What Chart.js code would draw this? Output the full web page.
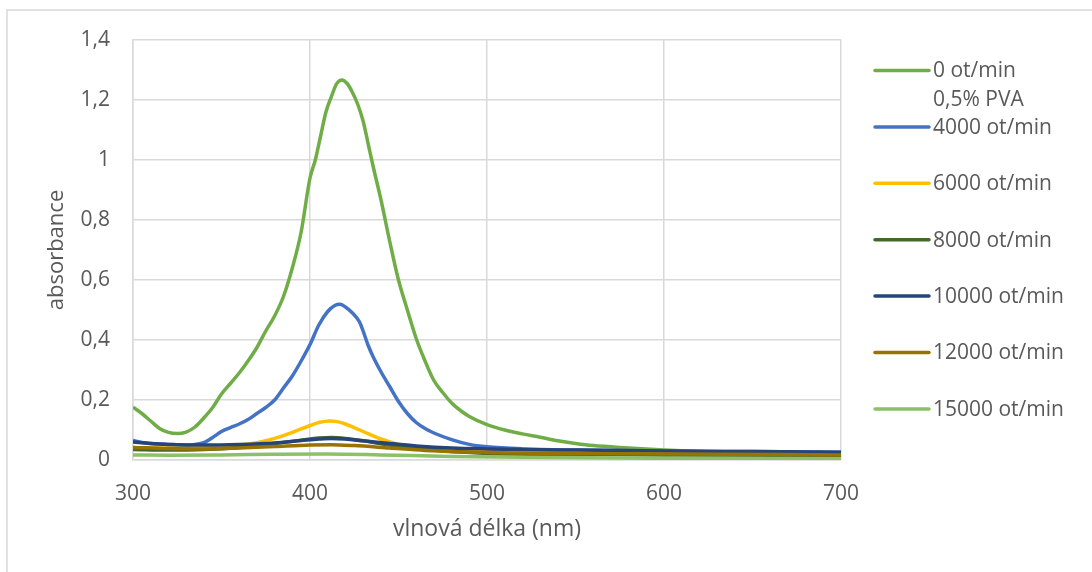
<!DOCTYPE html>
<html>
<head>
<meta charset="utf-8">
<script src="https://cdn.jsdelivr.net/npm/chart.js@4/dist/chart.umd.min.js"></script>
<style>
  html, body { margin: 0; padding: 0; background: #fff; }
  #spectra { display: block; }
</style>
</head>
<body>
<canvas id="spectra" width="1092" height="572"></canvas>
<script>
// UV-Vis spectra, absorbance vs wavelength for each spin speed

const nm0 = [300, 305, 310, 315, 320, 325, 330, 335, 340, 345, 350, 355, 360, 365, 370, 375, 380, 385, 390, 395, 400, 403, 406, 409, 412, 415, 418, 421, 424, 427, 430, 433, 436, 440, 445, 450, 455, 460, 465, 470, 475, 480, 485, 490, 500, 510, 520, 530, 540, 550, 560, 580, 600, 620, 640, 660, 680, 700];
const abs0 = [0.176, 0.155, 0.13, 0.105, 0.092, 0.088, 0.093, 0.11, 0.14, 0.175, 0.22, 0.255, 0.29, 0.33, 0.375, 0.43, 0.48, 0.545, 0.64, 0.76, 0.94, 1.0, 1.08, 1.16, 1.21, 1.254, 1.267, 1.255, 1.225, 1.185, 1.13, 1.05, 0.97, 0.87, 0.73, 0.6, 0.5, 0.405, 0.33, 0.265, 0.225, 0.19, 0.165, 0.145, 0.118, 0.1, 0.087, 0.076, 0.064, 0.055, 0.048, 0.04, 0.033, 0.028, 0.025, 0.023, 0.021, 0.02];

const nm4000 = [300, 305, 310, 320, 330, 335, 340, 345, 350, 355, 360, 365, 370, 375, 380, 385, 390, 395, 400, 405, 410, 414, 417, 420, 424, 428, 430, 433, 436, 440, 445, 450, 455, 460, 465, 470, 480, 490, 500, 520, 550, 600, 650, 700];
const abs4000 = [0.065, 0.058, 0.055, 0.052, 0.05, 0.052, 0.058, 0.075, 0.095, 0.108, 0.12, 0.135, 0.155, 0.175, 0.2, 0.24, 0.28, 0.33, 0.385, 0.45, 0.495, 0.515, 0.519, 0.51, 0.49, 0.46, 0.43, 0.38, 0.34, 0.295, 0.245, 0.195, 0.155, 0.125, 0.105, 0.09, 0.068, 0.052, 0.044, 0.037, 0.033, 0.03, 0.028, 0.026];

const nm6000 = [300, 320, 340, 360, 370, 380, 390, 400, 405, 411, 416, 420, 425, 430, 440, 450, 460, 480, 500, 550, 600, 700];
const abs6000 = [0.042, 0.04, 0.042, 0.05, 0.058, 0.072, 0.092, 0.115, 0.125, 0.13, 0.127, 0.12, 0.108, 0.095, 0.07, 0.052, 0.04, 0.032, 0.028, 0.025, 0.022, 0.018];

const nm8000 = [300, 320, 340, 360, 380, 395, 405, 412, 420, 430, 445, 460, 480, 500, 550, 600, 700];
const abs8000 = [0.035, 0.033, 0.035, 0.042, 0.055, 0.066, 0.073, 0.075, 0.072, 0.064, 0.05, 0.038, 0.028, 0.022, 0.019, 0.017, 0.015];

const nm10000 = [300, 310, 320, 340, 360, 380, 395, 405, 412, 420, 430, 445, 460, 480, 500, 550, 600, 650, 700];
const abs10000 = [0.06, 0.055, 0.052, 0.05, 0.052, 0.057, 0.065, 0.07, 0.072, 0.07, 0.064, 0.055, 0.047, 0.04, 0.037, 0.033, 0.03, 0.028, 0.026];

const nm12000 = [300, 320, 340, 360, 380, 400, 412, 425, 445, 465, 500, 550, 600, 700];
const abs12000 = [0.042, 0.038, 0.037, 0.04, 0.045, 0.05, 0.051, 0.048, 0.04, 0.032, 0.025, 0.022, 0.02, 0.017];

const nm15000 = [300, 320, 350, 380, 410, 440, 480, 520, 600, 700];
const abs15000 = [0.017, 0.016, 0.017, 0.019, 0.02, 0.017, 0.012, 0.009, 0.006, 0.004];

const seriesLabels = [['0 ot/min', '0,5% PVA'], '4000 ot/min', '6000 ot/min', '8000 ot/min', '10000 ot/min', '12000 ot/min', '15000 ot/min'];
const seriesColors = ['#70AD47', '#4472C4', '#FFC000', '#43682B', '#264478', '#997300', '#8CC168'];
const seriesX = [nm0, nm4000, nm6000, nm8000, nm10000, nm12000, nm15000];
const seriesY = [abs0, abs4000, abs6000, abs8000, abs10000, abs12000, abs15000];

const xTicks = [300, 400, 500, 600, 700];
const yTicks = [0, 0.2, 0.4, 0.6, 0.8, 1, 1.2, 1.4];

const textColor = '#595959';
const gridColor = '#d9d9d9';
const fontFamily = '"Open Sans", "Liberation Sans", sans-serif';

const points = (xs, ys) => xs.map((x, i) => ({x: x, y: ys[i]}));
const decimalComma = v => String(+v.toFixed(1)).replace('.', ',');

// Outer frame of the chart object
const frame = {
  id: 'frame',
  beforeDraw(chart) {
    const ctx = chart.ctx;
    ctx.save();
    ctx.fillStyle = '#fff';
    ctx.fillRect(0, 0, chart.width, chart.height);
    ctx.strokeStyle = gridColor;
    ctx.lineWidth = 1.5;
    ctx.strokeRect(7, 10, chart.width + 20, chart.height + 20);
    ctx.restore();
  }
};

// Legend on the right, labels may span two lines
const sideLegend = {
  id: 'sideLegend',
  afterDraw(chart) {
    const ctx = chart.ctx;
    const x0 = chart.chartArea.right + 34;
    const lineLen = 54;
    const top = 70.5;
    const step = 56.4;
    ctx.save();
    ctx.font = '21px ' + fontFamily;
    ctx.textBaseline = 'middle';
    ctx.textAlign = 'left';
    chart.data.datasets.forEach((ds, i) => {
      const y = top + i * step;
      ctx.strokeStyle = ds.borderColor;
      ctx.lineWidth = 3.5;
      ctx.lineCap = 'round';
      ctx.beginPath();
      ctx.moveTo(x0, y);
      ctx.lineTo(x0 + lineLen, y);
      ctx.stroke();
      ctx.fillStyle = textColor;
      const lines = Array.isArray(ds.label) ? ds.label : [ds.label];
      lines.forEach((t, k) => ctx.fillText(t, x0 + lineLen + 4, y + 1 + k * 29));
    });
    ctx.restore();
  }
};

new Chart(document.getElementById('spectra'), {
  type: 'line',
  data: {
    datasets: seriesLabels.map((label, i) => ({
      label: label,
      data: points(seriesX[i], seriesY[i]),
      borderColor: seriesColors[i],
      backgroundColor: seriesColors[i],
      borderWidth: 3.5,
      pointRadius: 0,
      cubicInterpolationMode: 'monotone',
      fill: false,
      order: seriesLabels.length - i
    }))
  },
  options: {
    responsive: false,
    animation: false,
    layout: {padding: {top: 40, right: 251, left: 0, bottom: 0}},
    plugins: {
      legend: {display: false},
      tooltip: {enabled: false}
    },
    scales: {
      x: {
        type: 'linear',
        min: 300,
        max: 700,
        afterFit: s => { s.height = 112; },
        afterBuildTicks: s => { s.ticks = xTicks.map(v => ({value: v})); },
        grid: {color: gridColor, lineWidth: 1.5, drawTicks: false},
        border: {color: gridColor, width: 1.5},
        ticks: {color: textColor, font: {family: fontFamily, size: 21}, padding: 21, maxRotation: 0},
        title: {display: true, text: 'vlnová délka (nm)', color: textColor, font: {family: fontFamily, size: 23}, padding: {top: 0, bottom: 29}}
      },
      y: {
        min: 0,
        max: 1.4,
        afterFit: s => { s.width = 133; },
        afterBuildTicks: s => { s.ticks = yTicks.map(v => ({value: v})); },
        grid: {color: gridColor, lineWidth: 1.5, drawTicks: false},
        border: {color: gridColor, width: 1.5},
        ticks: {color: textColor, font: {family: fontFamily, size: 21}, padding: 23, callback: v => decimalComma(v)},
        title: {display: true, text: 'absorbance', color: textColor, font: {family: fontFamily, size: 22}, padding: {top: 44, bottom: 0}}
      }
    }
  },
  plugins: [frame, sideLegend]
});
</script>
</body>
</html>
